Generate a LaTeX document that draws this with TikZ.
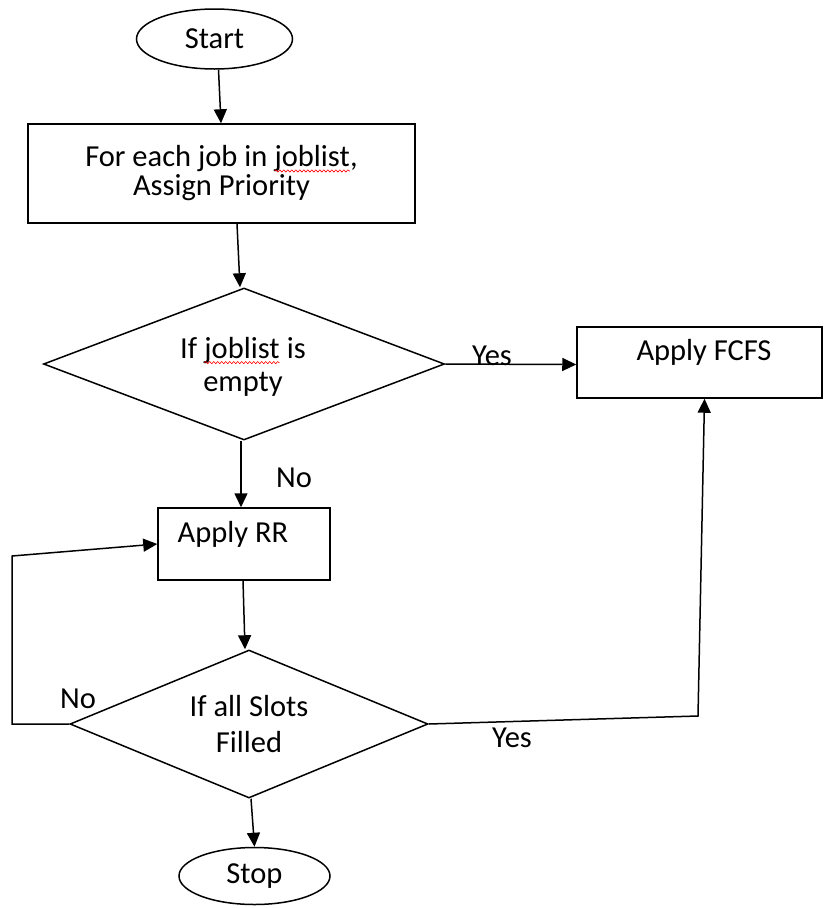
\documentclass[tikz,border=0pt]{standalone}
\usepackage{fontspec}
\setmainfont{Carlito}
\usetikzlibrary{shapes.geometric,arrows.meta,decorations.pathmorphing}
% red wavy underline, as a word processor marks a word it does not know
\newcommand\spellwave[1]{\tikz[baseline=(sw.base)]{%
  \node[rectangle, inner sep=0pt, outer sep=0pt, draw=none, minimum size=0pt] (sw) {#1};
  \draw[red, line width=0.6pt, decorate,
        decoration={snake, amplitude=1.1pt, segment length=4pt}]
    ([yshift=-4pt]sw.base west) -- ([yshift=-4pt]sw.base east);}}
\begin{document}
\begin{tikzpicture}[x=1pt,y=-1pt,
  flow/.style={draw, line width=1.5pt, font=\fontsize{30.5}{33}\selectfont, align=center, text=black},
  term/.style={flow, ellipse, inner sep=0pt},
  proc/.style={flow, rectangle, inner sep=0pt},
  dec/.style={flow, diamond, inner sep=0pt},
  lbl/.style={font=\fontsize{30.5}{33}\selectfont, inner sep=0pt, align=center, text=black},
  arr/.style={line width=1.5pt, -{Triangle[length=14pt,width=13pt]}}]
\useasboundingbox (0,0) rectangle (823,908);

% shapes
\node[term, minimum width=156, minimum height=60] (start) at (214.5,39) {Start};
\node[proc, minimum width=387, minimum height=99] (task) at (221.5,173.5)
  {For each job in \spellwave{joblist},\\[-4pt]Assign Priority};
\node[dec, aspect=2.64, minimum width=401, minimum height=152] (ifempty) at (244,364) {};
\node[lbl] (ifempty-t) at (243,367) {If \spellwave{joblist} is\\[0pt]empty};
\node[proc, minimum width=245, minimum height=71] (fcfs) at (699.5,362.5) {};
\node[lbl] (fcfs-t) at (704,352) {Apply FCFS};
\node[proc, minimum width=172, minimum height=72] (rr) at (244,544) {};
\node[lbl] (rr-t) at (233,534) {Apply RR};
\node[dec, aspect=2.42, minimum width=358, minimum height=148] (slots) at (249,724)
  {If all Slots\\[3pt]Filled};
\node[term, minimum width=151, minimum height=57] (stop) at (254.5,876) {Stop};

% bend points of the two return paths
\coordinate (noup) at (12,556);
\coordinate (yesbend) at (698,716);

% connectors
\draw[arr] ([xshift=4]start.south) -- ([xshift=-0.5]task.north);
\draw[arr] ([xshift=15.5]task.south) -- ([xshift=-4]ifempty.north);
\draw[arr] (ifempty.east) -- ([yshift=-2]fcfs.west);
\draw[arr] ([xshift=-3]ifempty.south) -- ([xshift=-3]rr.north);
\draw[arr] ([xshift=-1]rr.south) -- ([xshift=-4]slots.north);
\draw[arr] (slots.west) -| (noup) -- (rr.west);
\draw[arr] (slots.east) -- (yesbend) -- ([xshift=5]fcfs.south);
\draw[arr] ([xshift=2]slots.south) -- (stop.north);

% branch labels
\node[lbl] (yes1) at (492,356) {Yes};
\node[lbl] (no1) at (294,478) {No};
\node[lbl] (no2) at (78,699) {No};
\node[lbl] (yes2) at (512,738) {Yes};
\end{tikzpicture}
\end{document}
